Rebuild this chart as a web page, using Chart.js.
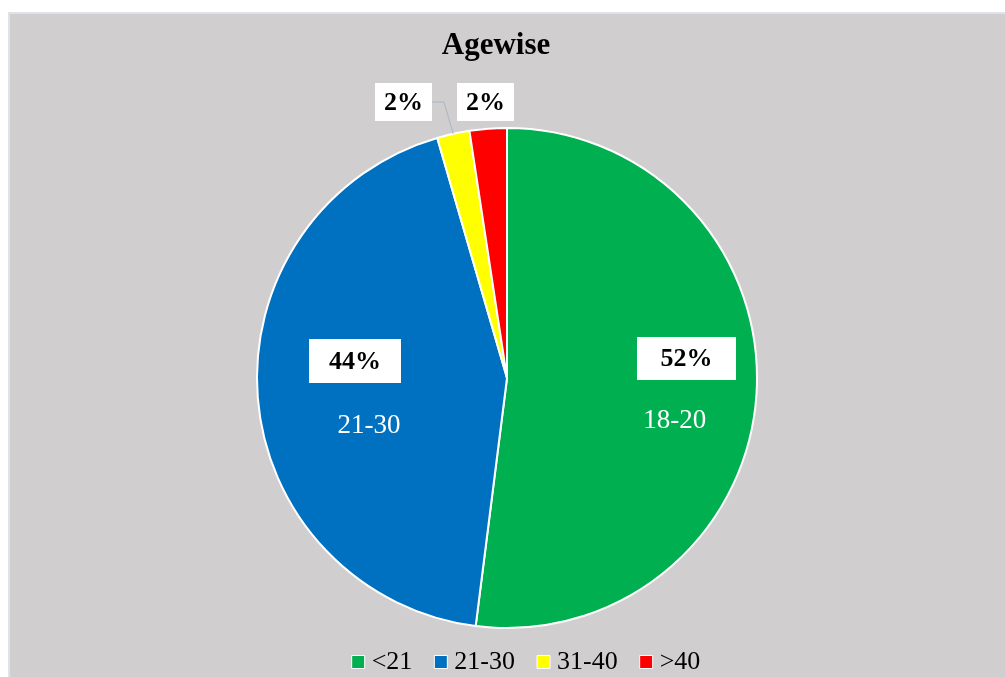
<!DOCTYPE html>
<html>
<head>
<meta charset="utf-8">
<script src="https://cdn.jsdelivr.net/npm/chart.js@4.4.0/dist/chart.umd.min.js"></script>
<style>
  body { margin: 0; background: #fff; overflow: hidden; }
  #panel {
    position: absolute; left: 8px; top: 12px; width: 1010px; height: 690px;
    background: #d0cece; border-top: 2px solid #dde3e8; border-left: 2px solid #dde3e8;
  }
  #myChart { position: absolute; left: 0; top: 0; }
</style>
</head>
<body>
<div id="panel"><canvas id="myChart" width="994" height="671"></canvas></div>
<script>
const ageGroups = ['<21', '21-30', '31-40', '>40'];
const shares = [52.0, 43.5, 2.1, 2.4];
const sliceNotes = ['18-20', '21-30', '', ''];
const sliceColors = ['#00b050', '#0070c0', '#ffff00', '#ff0000'];

const serif = "'Liberation Serif', 'Times New Roman', serif";

// where each label box sits, as fractions of the radius from the pie centre
const labelSpots = [
  { pct: [0.718, -0.078], w: 99, h: 43, note: [0.671, 0.172] },
  { pct: [-0.608, -0.068], w: 92, h: 44, note: [-0.552, 0.192] },
  { pct: [-0.414, -1.104], w: 57, h: 38, leader: true },
  { pct: [-0.086, -1.104], w: 57, h: 38 }
];

const sliceLabels = {
  id: 'sliceLabels',
  afterLayout(chart) {
    chart.titleBlock.left -= 11;
    chart.titleBlock.right -= 11;
    chart.legend.left += 22;
    chart.legend.right += 22;
  },
  afterDatasetsDraw(chart) {
    const ctx = chart.ctx;
    const arcs = chart.getDatasetMeta(0).data;
    const total = shares.reduce((a, b) => a + b, 0);
    ctx.save();
    ctx.textAlign = 'center';
    ctx.textBaseline = 'middle';
    arcs.forEach((arc, i) => {
      const spot = labelSpots[i];
      const r = arc.outerRadius;
      const bx = arc.x + spot.pct[0] * r;
      const by = arc.y + spot.pct[1] * r;
      if (spot.leader) {
        const mid = (arc.startAngle + arc.endAngle) / 2;
        ctx.strokeStyle = '#a7b6c6';
        ctx.lineWidth = 1;
        ctx.beginPath();
        ctx.moveTo(bx + spot.w / 2, by);
        ctx.lineTo(bx + spot.w / 2 + 12, by);
        ctx.lineTo(arc.x + Math.cos(mid) * r, arc.y + Math.sin(mid) * r);
        ctx.stroke();
      }
      ctx.fillStyle = '#ffffff';
      ctx.fillRect(bx - spot.w / 2, by - spot.h / 2, spot.w, spot.h);
      ctx.fillStyle = '#000000';
      ctx.font = 'bold 26px ' + serif;
      ctx.fillText(Math.round(shares[i] / total * 100) + '%', bx, by + 1);
      if (spot.note && sliceNotes[i]) {
        ctx.fillStyle = '#ffffff';
        ctx.font = '27px ' + serif;
        ctx.fillText(sliceNotes[i], arc.x + spot.note[0] * r, arc.y + spot.note[1] * r);
      }
    });
    ctx.restore();
  }
};

const config = {
  type: 'pie',
  data: {
    labels: ageGroups,
    datasets: [{
      data: shares,
      backgroundColor: sliceColors,
      borderColor: '#ffffff',
      borderWidth: 2,
      radius: 250
    }]
  },
  options: {
    responsive: false,
    animation: false,
    layout: { padding: 0 },
    plugins: {
      title: {
        display: true,
        text: 'Agewise',
        color: '#000',
        font: { family: serif, size: 31, weight: 'bold', lineHeight: 1.2 },
        padding: { top: 13.4, bottom: 70.4 }
      },
      legend: {
        position: 'bottom',
        labels: {
          color: '#000',
          font: { family: serif, size: 26 },
          usePointStyle: true,
          pointStyle: 'rect',
          boxWidth: 1,
          boxHeight: 13,
          padding: 28,
          generateLabels(chart) {
            const items = Chart.overrides.pie.plugins.legend.labels.generateLabels(chart);
            items.forEach(it => { it.lineWidth = 1; it.pointStyle = 'rect'; });
            return items;
          }
        }
      },
      tooltip: { enabled: false }
    }
  },
  plugins: [sliceLabels]
};

new Chart(document.getElementById('myChart'), config);
</script>
</body>
</html>
